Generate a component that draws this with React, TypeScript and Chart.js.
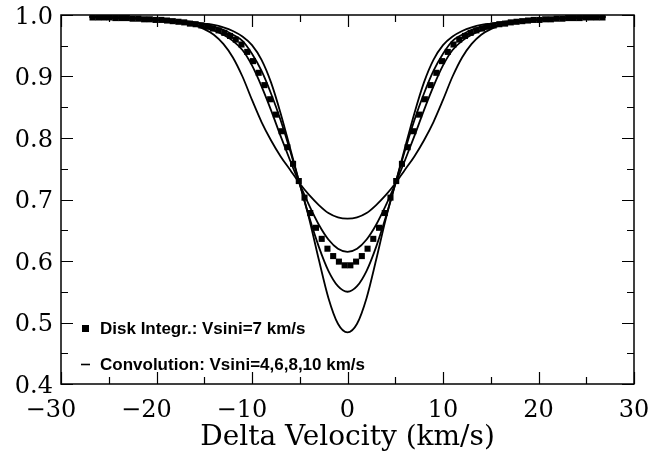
import React, { useEffect, useRef } from 'react';
import { Chart, registerables } from 'chart.js';

Chart.register(...registerables);

// Velocity grid of the convolution curves (km/s)
const LINE_VELOCITY = [
  -27, -26, -25, -24, -23, -22, -21, -20, -19, -18, -17, -16, -15, -14, -13, -12, -11, -10, -9, -8, -7, -6, -5, -4, -3, -2, -1,
  0,
  1, 2, 3, 4, 5, 6, 7, 8, 9, 10, 11, 12, 13, 14, 15, 16, 17, 18, 19, 20, 21, 22, 23, 24, 25, 26, 27,
];

// Convolution profiles, Vsini = 4, 6, 8, 10 km/s
const CONV_VSINI_4 = [
  0.997, 0.997, 0.996, 0.996, 0.995, 0.995, 0.994, 0.993, 0.992, 0.991, 0.990, 0.988, 0.986, 0.984, 0.980, 0.974, 0.965, 0.951, 0.927, 0.890, 0.840, 0.783, 0.725, 0.668, 0.602, 0.540, 0.498,
  0.484,
  0.498, 0.540, 0.602, 0.668, 0.725, 0.783, 0.840, 0.890, 0.927, 0.951, 0.965, 0.974, 0.980, 0.984, 0.986, 0.988, 0.990, 0.991, 0.992, 0.993, 0.994, 0.995, 0.995, 0.996, 0.996, 0.997, 0.997,
];
const CONV_VSINI_6 = [
  0.997, 0.997, 0.996, 0.996, 0.995, 0.995, 0.994, 0.993, 0.992, 0.991, 0.989, 0.987, 0.985, 0.981, 0.976, 0.968, 0.958, 0.937, 0.909, 0.872, 0.829, 0.779, 0.725, 0.671, 0.623, 0.584, 0.559,
  0.550,
  0.559, 0.584, 0.623, 0.671, 0.725, 0.779, 0.829, 0.872, 0.909, 0.937, 0.958, 0.968, 0.976, 0.981, 0.985, 0.987, 0.989, 0.991, 0.992, 0.993, 0.994, 0.995, 0.995, 0.996, 0.996, 0.997, 0.997,
];
const CONV_VSINI_8 = [
  0.997, 0.996, 0.996, 0.995, 0.995, 0.994, 0.993, 0.992, 0.991, 0.989, 0.987, 0.984, 0.980, 0.975, 0.968, 0.958, 0.943, 0.918, 0.884, 0.845, 0.803, 0.763, 0.725, 0.690, 0.659, 0.635, 0.620,
  0.615,
  0.620, 0.635, 0.659, 0.690, 0.725, 0.763, 0.803, 0.845, 0.884, 0.918, 0.943, 0.958, 0.968, 0.975, 0.980, 0.984, 0.987, 0.989, 0.991, 0.992, 0.993, 0.994, 0.995, 0.995, 0.996, 0.996, 0.997,
];
const CONV_VSINI_10 = [
  0.997, 0.996, 0.996, 0.995, 0.995, 0.994, 0.993, 0.992, 0.990, 0.988, 0.986, 0.983, 0.977, 0.968, 0.953, 0.931, 0.900, 0.862, 0.826, 0.796, 0.770, 0.748, 0.726, 0.707, 0.691, 0.678, 0.671,
  0.669,
  0.671, 0.678, 0.691, 0.707, 0.726, 0.748, 0.770, 0.796, 0.826, 0.862, 0.900, 0.931, 0.953, 0.968, 0.977, 0.983, 0.986, 0.988, 0.990, 0.992, 0.993, 0.994, 0.995, 0.995, 0.996, 0.996, 0.997,
];

// Disk-integrated profile, Vsini = 7 km/s
const DISK_VELOCITY = [
  -26.7, -26.1, -25.5, -24.9, -24.3, -23.7, -23.1, -22.5, -21.9, -21.3, -20.7, -20.1, -19.5, -18.9, -18.3,
  -17.7, -17.1, -16.5, -15.9, -15.3, -14.7, -14.1, -13.5, -12.9, -12.3, -11.7, -11.1, -10.5, -9.9, -9.3,
  -8.7, -8.1, -7.5, -6.9, -6.3, -5.7, -5.1, -4.5, -3.9, -3.3, -2.7, -2.1, -1.5, -0.9, -0.3,
  0.3, 0.9, 1.5, 2.1, 2.7, 3.3, 3.9, 4.5, 5.1, 5.7, 6.3, 6.9, 7.5, 8.1, 8.7,
  9.3, 9.9, 10.5, 11.1, 11.7, 12.3, 12.9, 13.5, 14.1, 14.7, 15.3, 15.9, 16.5, 17.1, 17.7,
  18.3, 18.9, 19.5, 20.1, 20.7, 21.3, 21.9, 22.5, 23.1, 23.7, 24.3, 24.9, 25.5, 26.1, 26.7,
];
const DISK_VSINI_7 = [
  0.996, 0.996, 0.996, 0.996, 0.995, 0.995, 0.995, 0.994, 0.994, 0.993, 0.993, 0.992, 0.992, 0.991, 0.990,
  0.989, 0.988, 0.986, 0.985, 0.983, 0.981, 0.978, 0.975, 0.971, 0.966, 0.960, 0.952, 0.940, 0.925, 0.906,
  0.886, 0.863, 0.838, 0.811, 0.785, 0.758, 0.730, 0.703, 0.678, 0.654, 0.636, 0.620, 0.608, 0.599, 0.593,
  0.593, 0.599, 0.608, 0.620, 0.636, 0.654, 0.678, 0.703, 0.730, 0.758, 0.785, 0.811, 0.838, 0.863, 0.886,
  0.906, 0.925, 0.940, 0.952, 0.960, 0.966, 0.971, 0.975, 0.978, 0.981, 0.983, 0.985, 0.986, 0.988, 0.989,
  0.990, 0.991, 0.992, 0.992, 0.993, 0.993, 0.994, 0.994, 0.995, 0.995, 0.995, 0.996, 0.996, 0.996, 0.996,
];

const X_TICKS = [-30, -20, -10, 0, 10, 20, 30];
const X_MINOR_TICKS = [-25, -15, -5, 5, 15, 25];
const Y_TICKS = [0.4, 0.5, 0.6, 0.7, 0.8, 0.9, 1.0];
const Y_MINOR_TICKS = [0.45, 0.55, 0.65, 0.75, 0.85, 0.95];

const X_TITLE = 'Delta Velocity (km/s)';
const LEGEND_DISK = 'Disk Integr.: Vsini=7 km/s';
const LEGEND_CONV = 'Convolution: Vsini=4,6,8,10 km/s';

const SERIF = '"DejaVu Serif", serif';
const SANS = '"Liberation Sans", Arial, sans-serif';

const framePlugin = {
  id: 'frame',
  afterDraw(chart: any) {
    const { ctx, chartArea: a, scales } = chart;
    const xs = scales.x;
    const ys = scales.y;
    ctx.save();
    ctx.strokeStyle = '#000';
    ctx.fillStyle = '#000';

    // frame
    ctx.lineWidth = 1.5;
    ctx.strokeRect(a.left, a.top, a.right - a.left, a.bottom - a.top);

    // inward ticks
    ctx.lineWidth = 1.2;
    const major = 12;
    const minor = 7;
    ctx.beginPath();
    const xTick = (v: number, len: number) => {
      const p = Math.round(xs.getPixelForValue(v)) + 0.5;
      ctx.moveTo(p, a.bottom);
      ctx.lineTo(p, a.bottom - len);
      ctx.moveTo(p, a.top);
      ctx.lineTo(p, a.top + len);
    };
    const yTick = (v: number, len: number) => {
      const p = Math.round(ys.getPixelForValue(v)) + 0.5;
      ctx.moveTo(a.left, p);
      ctx.lineTo(a.left + len, p);
      ctx.moveTo(a.right, p);
      ctx.lineTo(a.right - len, p);
    };
    X_TICKS.forEach((v) => xTick(v, major));
    X_MINOR_TICKS.forEach((v) => xTick(v, minor));
    Y_TICKS.forEach((v) => yTick(v, major));
    Y_MINOR_TICKS.forEach((v) => yTick(v, minor));
    ctx.stroke();

    // x tick labels (digits centred on the tick, minus sign hanging left)
    ctx.font = `24px ${SERIF}`;
    ctx.textBaseline = 'alphabetic';
    ctx.textAlign = 'left';
    X_TICKS.forEach((v) => {
      const p = xs.getPixelForValue(v);
      const digits = String(Math.abs(v));
      const label = v < 0 ? '\u2212' + digits : digits;
      const wd = ctx.measureText(digits).width;
      const wl = ctx.measureText(label).width;
      ctx.fillText(label, p + wd / 2 - wl, a.bottom + 33);
    });

    // y tick labels
    ctx.textAlign = 'right';
    Y_TICKS.forEach((v) => {
      const p = ys.getPixelForValue(v);
      ctx.fillText(v.toFixed(1), a.left - 8, p + 8.7);
    });

    // x title
    ctx.font = `28px ${SERIF}`;
    ctx.textAlign = 'center';
    ctx.fillText(X_TITLE, (a.left + a.right) / 2, a.bottom + 61);

    // legend inside the plot
    ctx.font = `bold 17px ${SANS}`;
    ctx.textAlign = 'left';
    ctx.textBaseline = 'middle';
    const row1 = a.bottom - 56;
    const row2 = a.bottom - 20;
    ctx.fillRect(a.left + 21, row1 - 3, 7, 7);
    ctx.fillText(LEGEND_DISK, a.left + 39, row1 + 1);
    ctx.lineWidth = 1.6;
    ctx.beginPath();
    ctx.moveTo(a.left + 20, row2 + 0.5);
    ctx.lineTo(a.left + 29, row2 + 0.5);
    ctx.stroke();
    ctx.fillText(LEGEND_CONV, a.left + 39, row2 + 1);

    ctx.restore();
  },
};

function lineDataset(values: number[]) {
  return {
    data: LINE_VELOCITY.map((x, i) => ({ x, y: values[i] })),
    showLine: true,
    pointRadius: 0,
    borderColor: '#000',
    backgroundColor: '#000',
    borderWidth: 1.8,
    cubicInterpolationMode: 'monotone' as const,
    fill: false,
  };
}

export default function App() {
  const ref = useRef<HTMLCanvasElement>(null);

  useEffect(() => {
    document.body.style.margin = '0';
    const canvas = ref.current;
    if (!canvas) return;
    const chart = new Chart(canvas, {
      type: 'line',
      data: {
        datasets: [
          {
            data: DISK_VELOCITY.map((x, i) => ({ x, y: DISK_VSINI_7[i] })),
            showLine: false,
            pointStyle: 'rect',
            pointRadius: 4.3,
            pointBorderWidth: 0,
            backgroundColor: '#000',
            borderColor: '#000',
          } as any,
          lineDataset(CONV_VSINI_4),
          lineDataset(CONV_VSINI_6),
          lineDataset(CONV_VSINI_8),
          lineDataset(CONV_VSINI_10),
        ],
      },
      options: {
        responsive: false,
        animation: false,
        devicePixelRatio: 1,
        layout: { padding: { top: 15, right: 20, left: 0, bottom: 0 } },
        plugins: { legend: { display: false }, tooltip: { enabled: false } },
        scales: {
          x: {
            type: 'linear',
            min: -30,
            max: 30,
            ticks: { display: false },
            grid: { display: false, drawTicks: false },
            border: { display: false },
            afterFit: (s: any) => {
              s.height = 67;
            },
          },
          y: {
            type: 'linear',
            min: 0.4,
            max: 1.0,
            ticks: { display: false },
            grid: { display: false, drawTicks: false },
            border: { display: false },
            afterFit: (s: any) => {
              s.width = 61;
            },
          },
        },
      } as any,
      plugins: [framePlugin],
    });
    return () => chart.destroy();
  }, []);

  return (
    <div style={{ position: 'absolute', left: 0, top: 0, width: 654, height: 451, background: '#fff' }}>
      <canvas ref={ref} width={654} height={451} />
    </div>
  );
}
